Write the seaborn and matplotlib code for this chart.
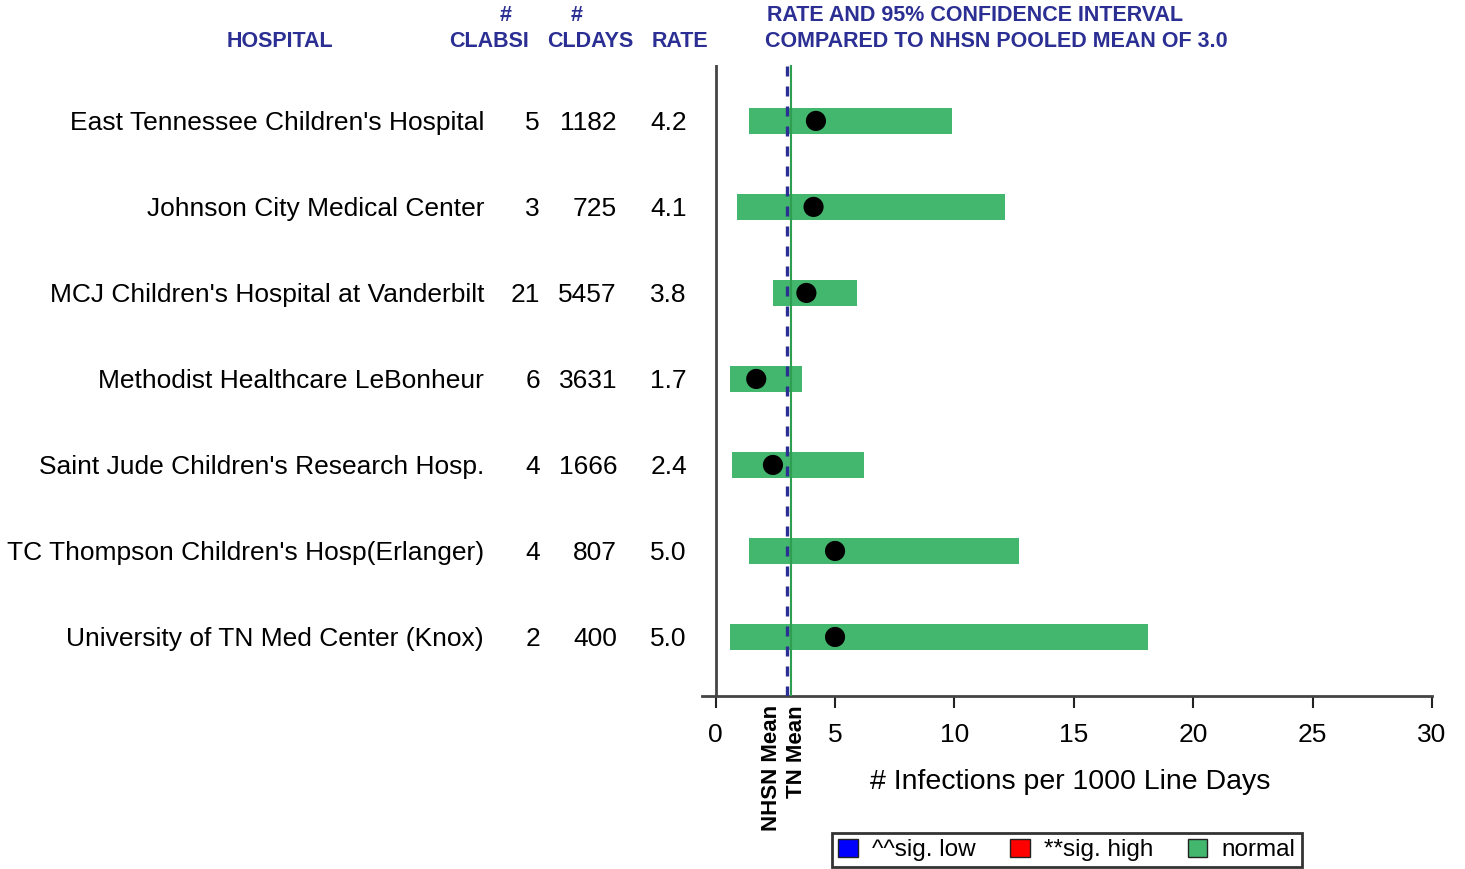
import matplotlib
matplotlib.use("Agg")
import matplotlib.pyplot as plt
import matplotlib.transforms as mtransforms
from matplotlib.patches import Patch
import seaborn as sns
import pandas as pd

# data
hospitals = [
    "East Tennessee Children's Hospital",
    "Johnson City Medical Center",
    "MCJ Children's Hospital at Vanderbilt",
    "Methodist Healthcare LeBonheur",
    "Saint Jude Children's Research Hosp.",
    "TC Thompson Children's Hosp(Erlanger)",
    "University of TN Med Center (Knox)",
]
clabsi = [5, 3, 21, 6, 4, 4, 2]
cldays = [1182, 725, 5457, 3631, 1666, 807, 400]
rates = [4.2, 4.1, 3.8, 1.7, 2.4, 5.0, 5.0]
ci_low = [1.4, 0.9, 2.4, 0.6, 0.7, 1.4, 0.6]
ci_high = [9.9, 12.1, 5.9, 3.6, 6.2, 12.7, 18.1]
nhsn_mean = 3.0
tn_mean = 3.16
xticks = [0, 5, 10, 15, 20, 25, 30]

df = pd.DataFrame({"hospital": hospitals, "rate": rates,
                   "lo": ci_low, "hi": ci_high, "pos": range(len(hospitals))})

NAVY = "#2b2f93"
GREEN = "#43b76e"

sns.set_style("white")
plt.rcParams["font.family"] = ["Liberation Sans", "DejaVu Sans"]
plt.rcParams["text.color"] = "black"

fig = plt.figure(figsize=(14.65, 8.69), dpi=100)
ax = fig.add_axes([0.4792, 0.1991, 0.4983, 0.7261])

# confidence interval bars
ax.barh(df["pos"], df["hi"] - df["lo"], left=df["lo"], height=0.31,
        color=GREEN, edgecolor="none", zorder=2)

# mean lines
ax.axvline(tn_mean, color="#2e9e50", lw=1.5, zorder=3)
ax.axvline(nhsn_mean, color=NAVY, lw=2.4, ls=(0, (3, 3)), zorder=4)

# rate points
sns.scatterplot(data=df, x="rate", y="pos", ax=ax, color="black", s=210,
                edgecolor="none", zorder=5, legend=False)

ax.axvline(0, color="#444444", lw=2, zorder=6)

ax.set_xlim(-0.57, 30)
ax.set_ylim(len(hospitals) - 1 + 0.686, -0.65)
ax.set_xticks(xticks)
ax.set_xticklabels([str(t) for t in xticks], fontsize=19, color="black")
ax.set_yticks([])
ax.set_xlabel("")
ax.set_ylabel("")
for s in ["top", "right", "left"]:
    ax.spines[s].set_visible(False)
ax.spines["bottom"].set_color("#444444")
ax.spines["bottom"].set_linewidth(2)
ax.tick_params(axis="x", direction="out", length=8.5, width=1.5,
               color="#222222", pad=11, bottom=True)

# text columns left of the plot
trans = mtransforms.blended_transform_factory(fig.transFigure, ax.transData)
for i in range(len(hospitals)):
    y = i + 0.025
    ax.text(0.3304, y, hospitals[i], transform=trans, ha="right", va="center",
            fontsize=19, clip_on=False)
    ax.text(0.3686, y, str(clabsi[i]), transform=trans, ha="right", va="center",
            fontsize=19, clip_on=False)
    ax.text(0.4212, y, str(cldays[i]), transform=trans, ha="right", va="center",
            fontsize=19, clip_on=False)
    ax.text(0.4689, y, f"{rates[i]:.1f}", transform=trans, ha="right", va="center",
            fontsize=19, clip_on=False)

# headers
hdr = dict(color=NAVY, fontweight="bold", fontsize=15.5, va="center")
fig.text(0.1911, 0.9528, "HOSPITAL", ha="center", **hdr)
fig.text(0.3454, 0.9827, "#", ha="center", **hdr)
fig.text(0.3338, 0.9528, "CLABSI", ha="center", **hdr)
fig.text(0.3939, 0.9827, "#", ha="center", **hdr)
fig.text(0.4027, 0.9528, "CLDAYS", ha="center", **hdr)
fig.text(0.4642, 0.9528, "RATE", ha="center", **hdr)
fig.text(0.5235, 0.9827, "RATE AND 95% CONFIDENCE INTERVAL", ha="left", **hdr)
fig.text(0.5222, 0.9528, "COMPARED TO NHSN POOLED MEAN OF 3.0", ha="left", **hdr)

fig.text(0.7304, 0.1001, "# Infections per 1000 Line Days", ha="center",
         va="center", fontsize=20.5)

fig.text(0.5263, 0.1887, "NHSN Mean", rotation=90, ha="center", va="top",
         fontsize=16, fontweight="bold")
fig.text(0.5440, 0.1887, "TN Mean", rotation=90, ha="center", va="top",
         fontsize=16, fontweight="bold")

handles = [Patch(facecolor="#0000ff", edgecolor="#222222", label="^^sig. low"),
           Patch(facecolor="#ff0000", edgecolor="#222222", label="**sig. high"),
           Patch(facecolor=GREEN, edgecolor="#222222", label="normal")]
leg = fig.legend(handles=handles, loc="center", bbox_to_anchor=(0.7283, 0.0219),
                 ncol=3, frameon=True, fancybox=False, fontsize=17.5,
                 handlelength=0.8, handleheight=0.8, handletextpad=0.6,
                 columnspacing=1.4, borderpad=0.25)
leg.get_frame().set_edgecolor("black")
leg.get_frame().set_linewidth(2)

fig.savefig("out.png", dpi=100)
